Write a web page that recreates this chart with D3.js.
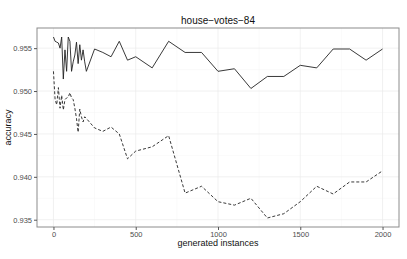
<!DOCTYPE html>
<html>
<head>
<meta charset="utf-8">
<script src="https://cdn.jsdelivr.net/npm/d3@7"></script>
<style>
  body { margin: 0; background: #fff; }
  svg text { font-family: "Liberation Sans", Arial, sans-serif; }
</style>
</head>
<body>
<div id="chart"></div>
<script>
// generated instances (x)
var instances = [0, 10, 20, 30, 40, 50, 60, 70, 80, 90, 100, 110, 120, 130, 140, 150, 160, 170, 180, 190, 200,
  250, 300, 350, 400, 450, 500, 600, 700, 800, 900, 1000, 1100, 1200, 1300, 1400, 1500, 1600, 1700, 1800, 1900, 2000];

// solid series
var accSolid = [0.9563, 0.9558, 0.9557, 0.9556, 0.9550, 0.9563, 0.9514, 0.9548, 0.9523, 0.9563, 0.9558,
  0.9523, 0.9534, 0.9542, 0.9557, 0.9532, 0.9554, 0.9536, 0.9548, 0.9534, 0.9523,
  0.9549, 0.9545, 0.9540, 0.9558, 0.9536, 0.9540, 0.9527, 0.9558, 0.9545, 0.9545,
  0.9523, 0.9526, 0.9503, 0.9517, 0.9517, 0.9530, 0.9527, 0.9549, 0.9549, 0.9536, 0.9549];

// dashed series
var accDashed = [0.9523, 0.9490, 0.9484, 0.9504, 0.9480, 0.9495, 0.9478, 0.9490, 0.9492, 0.9493, 0.9498,
  0.9492, 0.9490, 0.9480, 0.9468, 0.9452, 0.9479, 0.9470, 0.9464, 0.9470, 0.9468,
  0.9457, 0.9453, 0.9458, 0.9450, 0.9421, 0.9430, 0.9435, 0.9448, 0.9381, 0.9389,
  0.9371, 0.9367, 0.9375, 0.9352, 0.9357, 0.9371, 0.9389, 0.9380, 0.9394, 0.9394, 0.9407];

var xTicks = [0, 500, 1000, 1500, 2000];
var xMinor = [250, 750, 1250, 1750];
var yTicks = [0.935, 0.940, 0.945, 0.950, 0.955];
var yMinor = [0.9375, 0.9425, 0.9475, 0.9525];

var W = 407, H = 259;
var margin = {top: 28, right: 8, bottom: 32, left: 37};
var w = W - margin.left - margin.right,
    h = H - margin.top - margin.bottom;

var svg = d3.select("#chart").append("svg")
    .attr("width", W)
    .attr("height", H);

var g = svg.append("g")
    .attr("transform", "translate(" + margin.left + "," + margin.top + ")");

var x = d3.scaleLinear().domain([-100, 2100]).range([0, w]);
var y = d3.scaleLinear().domain([0.93415, 0.95735]).range([h, 0]);

// grid
g.selectAll(".minx").data(xMinor).enter().append("line")
    .attr("x1", function(d) { return x(d); }).attr("x2", function(d) { return x(d); })
    .attr("y1", 0).attr("y2", h)
    .attr("stroke", "#f5f5f5").attr("stroke-width", 0.5);
g.selectAll(".miny").data(yMinor).enter().append("line")
    .attr("y1", function(d) { return y(d); }).attr("y2", function(d) { return y(d); })
    .attr("x1", 0).attr("x2", w)
    .attr("stroke", "#f5f5f5").attr("stroke-width", 0.5);
g.selectAll(".majx").data(xTicks).enter().append("line")
    .attr("x1", function(d) { return x(d); }).attr("x2", function(d) { return x(d); })
    .attr("y1", 0).attr("y2", h)
    .attr("stroke", "#ebebeb").attr("stroke-width", 0.7);
g.selectAll(".majy").data(yTicks).enter().append("line")
    .attr("y1", function(d) { return y(d); }).attr("y2", function(d) { return y(d); })
    .attr("x1", 0).attr("x2", w)
    .attr("stroke", "#ebebeb").attr("stroke-width", 0.7);

// lines
var line = function(vals) {
  return d3.line()
    .x(function(d, i) { return x(instances[i]); })
    .y(function(d) { return y(d); })(vals);
};

g.append("path")
    .attr("d", line(accDashed))
    .attr("fill", "none")
    .attr("stroke", "#222")
    .attr("stroke-width", 0.9)
    .attr("stroke-dasharray", "3,2");

g.append("path")
    .attr("d", line(accSolid))
    .attr("fill", "none")
    .attr("stroke", "#222")
    .attr("stroke-width", 0.9);

// panel border
g.append("rect")
    .attr("width", w).attr("height", h)
    .attr("fill", "none")
    .attr("stroke", "#8c8c8c")
    .attr("stroke-width", 1);

// axes
var xAxis = g.append("g")
    .attr("transform", "translate(0," + h + ")")
    .call(d3.axisBottom(x).tickValues(xTicks).tickSize(3).tickPadding(2).tickFormat(d3.format("d")));
var yAxis = g.append("g")
    .call(d3.axisLeft(y).tickValues(yTicks).tickSize(3).tickPadding(2).tickFormat(d3.format(".3f")));

[xAxis, yAxis].forEach(function(a) {
  a.select(".domain").remove();
  a.selectAll(".tick line").attr("stroke", "#555");
  a.selectAll(".tick text").attr("fill", "#4d4d4d").style("font-size", "7.5px");
});

// title and labels
svg.append("text")
    .attr("x", margin.left + w / 2).attr("y", 24)
    .attr("text-anchor", "middle")
    .style("font-size", "10px")
    .attr("fill", "#111")
    .text("house\u2212votes\u221284");

svg.append("text")
    .attr("x", margin.left + w / 2).attr("y", 246)
    .attr("text-anchor", "middle")
    .style("font-size", "9px")
    .attr("fill", "#111")
    .text("generated instances");

svg.append("text")
    .attr("transform", "translate(11," + (margin.top + h / 2) + ") rotate(-90)")
    .attr("text-anchor", "middle")
    .style("font-size", "9px")
    .attr("fill", "#111")
    .text("accuracy");
</script>
</body>
</html>
